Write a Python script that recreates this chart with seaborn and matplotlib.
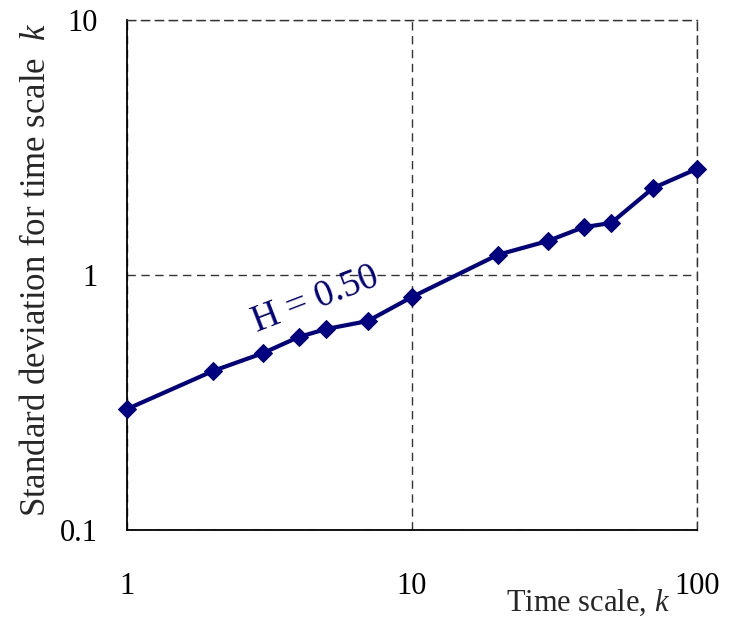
import matplotlib
matplotlib.use("Agg")
import matplotlib.pyplot as plt
import seaborn as sns
import pandas as pd

# Data
time_scale = [1, 2, 3, 4, 5, 7, 10, 20, 30, 40, 50, 70, 100]
std_dev = [0.298, 0.42, 0.494, 0.571, 0.614, 0.66, 0.82, 1.20, 1.36, 1.54, 1.60, 2.19, 2.61]
x_ticks = [1, 10, 100]
x_tick_labels = ["1", "10", "100"]
y_ticks = [0.1, 1, 10]
y_tick_labels = ["0.1", "1", "10"]

sns.set_style("white")
plt.rcParams['font.family'] = ['Liberation Serif', 'DejaVu Serif']
plt.rcParams['mathtext.fontset'] = 'custom'
plt.rcParams['mathtext.it'] = 'Liberation Serif:italic'
plt.rcParams['mathtext.rm'] = 'Liberation Serif'

df = pd.DataFrame({"k": time_scale, "sd": std_dev})

fig = plt.figure(figsize=(7.36, 6.2), dpi=100)
ax = fig.add_axes([127/736, 1-530/620, (697-127)/736, (530-20)/620])

sns.lineplot(data=df, x="k", y="sd", ax=ax, color="#000080", linewidth=3,
             marker="D", markersize=9, markeredgecolor="#000080", clip_on=False,
             zorder=5)

ax.set_xscale("log")
ax.set_yscale("log")
ax.set_xlim(1, 100)
ax.set_ylim(0.1, 10)

ax.set_xticks(x_ticks)
ax.set_xticklabels(x_tick_labels)
ax.set_yticks(y_ticks)
ax.set_yticklabels(y_tick_labels)
ax.minorticks_off()

ax.tick_params(axis="both", labelsize=22, colors="black", length=10, width=1,
               direction="out")
ax.tick_params(axis="x", pad=20)
ax.tick_params(axis="y", pad=11)

for s in ["top", "right"]:
    ax.spines[s].set_visible(True)
    ax.spines[s].set_linestyle((0, (6, 4)))
    ax.spines[s].set_color("#333333")
    ax.spines[s].set_linewidth(1)
for s in ["left", "bottom"]:
    ax.spines[s].set_color("black")
    ax.spines[s].set_linewidth(1.3)

ax.grid(True, which="major", linestyle=(0, (6, 4)), color="#333333", linewidth=1)

ax.set_xlabel("Time scale, $k$", fontsize=22, ha="right", va="center")
ax.xaxis.set_label_coords(1 - 27/570, -73/510)
ax.set_ylabel("Standard deviation for time scale  $k$", fontsize=25)
ax.yaxis.set_label_coords(-74/570, 0.51)

ax.text(4.6, 0.80, "H = 0.50", color="#000080", fontsize=27, rotation=21,
        ha="center", va="center")

fig.savefig("out.png", dpi=100)
